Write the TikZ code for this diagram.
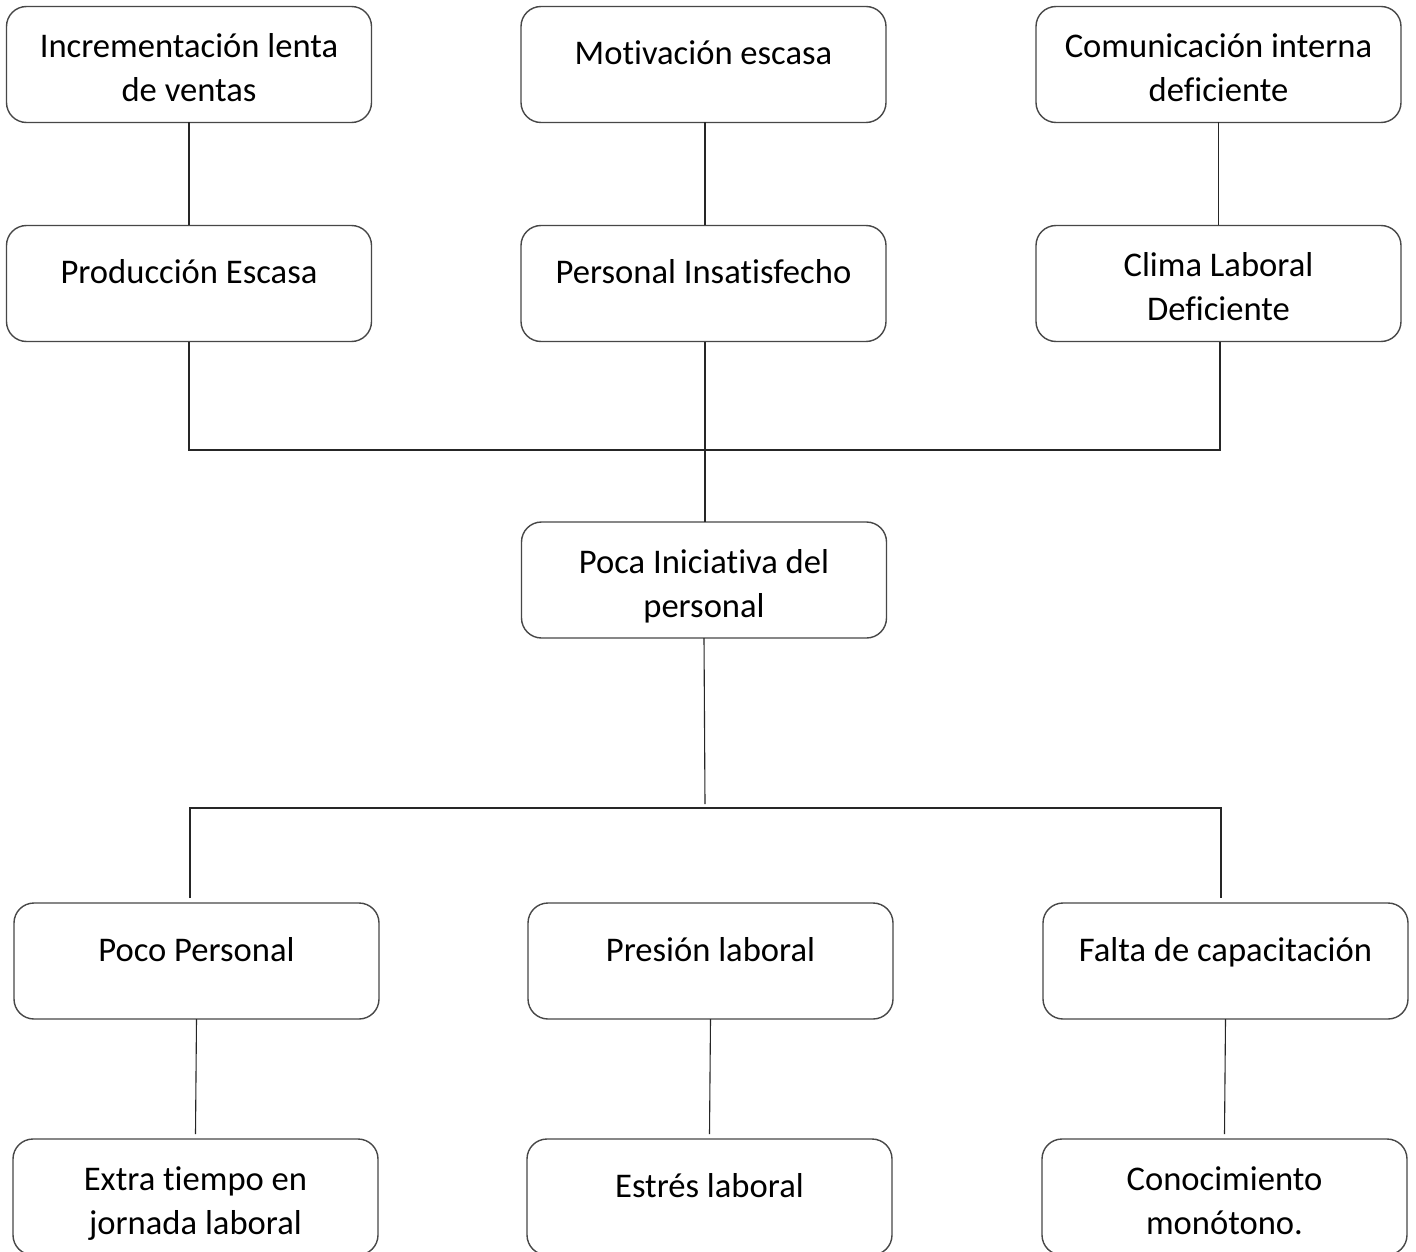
\documentclass[tikz,border=0pt]{standalone}
\usepackage{fontspec}
\setmainfont[Ligatures={NoCommon}]{Carlito}
\usetikzlibrary{calc}
\begin{document}
\begin{tikzpicture}[x=1pt,y=-1pt,
  box/.style={draw=black!72,line width=1.4pt,rounded corners=20pt,inner sep=0pt,outer sep=0pt,
    minimum width=365pt,minimum height=116pt,fill=white},
  conn/.style={draw=black!85,line width=1.1pt},
  txt/.style={anchor=base,inner sep=0pt,font=\fontsize{34.6}{40}\selectfont,text=black}]
\useasboundingbox (0,0) rectangle (1416,1252);
\clip (0,0) rectangle (1416,1252);
\fill[white] (0,0) rectangle (1416,1252);
% boxes
\node[box] (a1) at (189,64.5) {};
\node[box] (b1) at (703.5,64.5) {};
\node[box] (c1) at (1218.5,64.5) {};
\node[box] (a2) at (189,283.5) {};
\node[box] (b2) at (703.5,283.5) {};
\node[box] (c2) at (1218.5,283.5) {};
\node[box] (d) at (704,580) {};
\node[box] (a3) at (196.5,961) {};
\node[box] (b3) at (710.5,961) {};
\node[box] (c3) at (1225.5,961) {};
\node[box] (a4) at (195.5,1197) {};
\node[box] (b4) at (709.5,1197) {};
\node[box] (c4) at (1224.5,1197) {};
% texts
\node[txt] (t1a) at ($(a1.north)+(0,51)$) {Incrementación lenta};
\node[txt] (t1b) at ($(a1.north)+(0,95)$) {de ventas};
\node[txt] (t2) at ($(b1.north)+(0,58)$) {Motivación escasa};
\node[txt] (t3a) at ($(c1.north)+(0,51)$) {Comunicación interna};
\node[txt] (t3b) at ($(c1.north)+(0,95)$) {deficiente};
\node[txt] (t4) at ($(a2.north)+(0,58)$) {Producción Escasa};
\node[txt] (t5) at ($(b2.north)+(0,58)$) {Personal Insatisfecho};
\node[txt] (t6a) at ($(c2.north)+(0,51)$) {Clima Laboral};
\node[txt] (t6b) at ($(c2.north)+(0,95)$) {Deficiente};
\node[txt] (t7a) at ($(d.north)+(0,51)$) {Poca Iniciativa del};
\node[txt] (t7b) at ($(d.north)+(0,95)$) {personal};
\node[txt] (t8) at ($(a3.north)+(0,58)$) {Poco Personal};
\node[txt] (t9) at ($(b3.north)+(0,58)$) {Presión laboral};
\node[txt] (t10) at ($(c3.north)+(0,58)$) {Falta de capacitación};
\node[txt] (t11a) at ($(a4.north)+(0,51)$) {Extra tiempo en};
\node[txt] (t11b) at ($(a4.north)+(0,95)$) {jornada laboral};
\node[txt] (t12) at ($(b4.north)+(0,58)$) {Estrés laboral};
\node[txt] (t13a) at ($(c4.north)+(0,51)$) {Conocimiento};
\node[txt] (t13b) at ($(c4.north)+(0,95)$) {monótono.};
% coordinates
\coordinate (ubL) at (189,450);
\coordinate (ubR) at (1220,450);
\coordinate (dEnd) at (705,804);
\coordinate (lbL) at (190,808);
\coordinate (lbR) at (1221,808);
\coordinate (lbLd) at (190,898);
\coordinate (lbRd) at (1221,898);
% connectors
\draw[conn] (a1.south) -- (a2.north);
\draw[conn] (b1.south -| 705,0) -- (b2.north -| 705,0);
\draw[conn] (c1.south) -- (c2.north);
\draw[conn] (a2.south) -- (ubL) -- (ubR) -- (c2.south -| ubR);
\draw[conn] (b2.south -| 705,0) -- (d.north -| 705,0);
\draw[conn] (d.south) -- (dEnd);
\draw[conn] (lbLd) -- (lbL) -- (lbR) -- (lbRd);
\draw[conn] (a3.south) -- ([yshift=5pt]a4.north);
\draw[conn] (b3.south) -- ([yshift=5pt]b4.north);
\draw[conn] (c3.south) -- ([yshift=5pt]c4.north);
\end{tikzpicture}
\end{document}
